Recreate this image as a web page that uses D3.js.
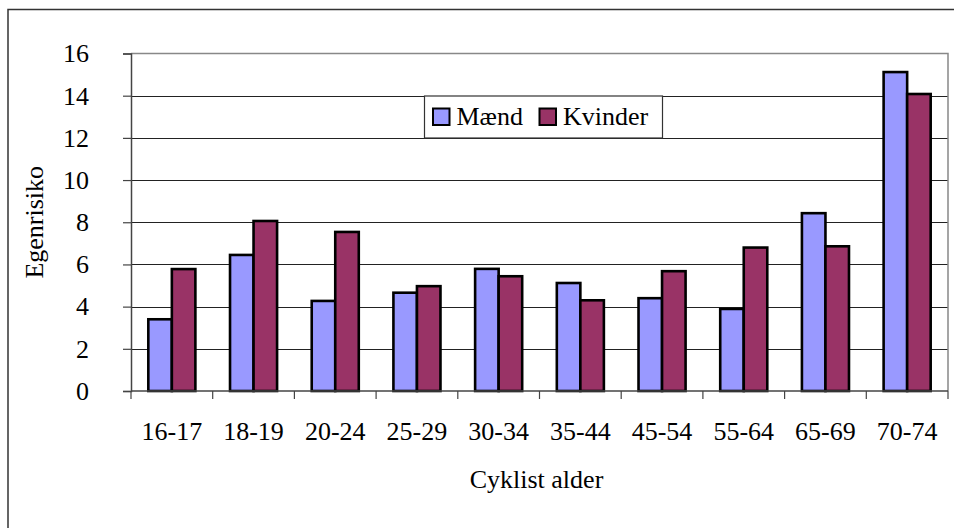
<!DOCTYPE html>
<html>
<head>
<meta charset="utf-8">
<script src="https://cdn.jsdelivr.net/npm/d3@7"></script>
<style>
    body { margin: 0; background: #fff; }
    svg { display: block; }
    text { font-family: "Liberation Serif", "Times New Roman", serif; fill: #000; }
</style>
</head>
<body>
<svg id="chart" width="954" height="528"></svg>
<script>
var categories = ['16-17', '18-19', '20-24', '25-29', '30-34', '35-44', '45-54', '55-64', '65-69', '70-74'];
var maendValues = [3.4, 6.45, 4.27, 4.66, 5.79, 5.12, 4.4, 3.89, 8.43, 15.12];
var kvinderValues = [5.78, 8.06, 7.54, 4.97, 5.44, 4.3, 5.68, 6.8, 6.86, 14.08];
var seriesNames = ['Mænd', 'Kvinder'];
var seriesColors = ['#9999ff', '#993366'];
var yTicks = [0, 2, 4, 6, 8, 10, 12, 14, 16];

var svg = d3.select('#chart');
var fontSize = '26px';

// outer frame, runs off the right and bottom edge
svg.append('rect')
    .attr('x', 8)
    .attr('y', 9.5)
    .attr('width', 1000)
    .attr('height', 600)
    .attr('fill', 'none')
    .attr('stroke', '#333')
    .attr('stroke-width', 1.5);

var plot = { left: 131, right: 948, top: 53.5, bottom: 391 };

var x = d3.scaleBand()
    .domain(categories)
    .range([plot.left, plot.right]);

var y = d3.scaleLinear()
    .domain([0, 16])
    .range([plot.bottom, plot.top]);

var barW = x.bandwidth() * 0.288;

// gridlines
svg.append('g')
    .selectAll('line')
    .data(yTicks.filter(function(t) { return t > 0 && t < 16; }))
    .enter()
    .append('line')
    .attr('x1', plot.left)
    .attr('x2', plot.right)
    .attr('y1', function(t) { return Math.round(y(t)) + 0.5; })
    .attr('y2', function(t) { return Math.round(y(t)) + 0.5; })
    .attr('stroke', '#222')
    .attr('stroke-width', 1);

// plot area border (top + right)
svg.append('path')
    .attr('d', 'M' + plot.left + ',' + plot.top + 'H' + plot.right + 'V' + plot.bottom)
    .attr('fill', 'none')
    .attr('stroke', '#888')
    .attr('stroke-width', 1.5);

// bars
var groups = svg.append('g')
    .selectAll('.group')
    .data(categories)
    .enter()
    .append('g')
    .classed('group', true);

groups.each(function(cat, i)
{
    var el = d3.select(this);
    var cx = x(cat) + x.bandwidth() / 2;
    var vals = [maendValues[i], kvinderValues[i]];

    vals.forEach(function(v, s)
    {
        el.append('rect')
            .attr('x', cx - barW + s * barW)
            .attr('y', y(v))
            .attr('width', barW)
            .attr('height', y(0) - y(v))
            .attr('fill', seriesColors[s])
            .attr('stroke', '#000')
            .attr('stroke-width', 2.6);
    });
});

// y axis
var yAxis = d3.axisLeft(y)
    .tickValues(yTicks)
    .tickSize(8)
    .tickPadding(34)
    .tickFormat(d3.format('d'));

var yG = svg.append('g')
    .attr('transform', 'translate(' + plot.left + ',0)')
    .call(yAxis);

yG.select('.domain').attr('stroke', '#444').attr('stroke-width', 1.5);
yG.selectAll('.tick line').attr('stroke', '#444').attr('stroke-width', 1.2);
yG.selectAll('.tick text')
    .attr('font-size', fontSize)
    .attr('font-family', '"Liberation Serif", serif')
    .attr('fill', '#000')
    .attr('text-anchor', 'end')
    .attr('x', -42);

// x axis: ticks between categories
var xG = svg.append('g');

xG.append('line')
    .attr('x1', plot.left)
    .attr('x2', plot.right)
    .attr('y1', plot.bottom)
    .attr('y2', plot.bottom)
    .attr('stroke', '#444')
    .attr('stroke-width', 1.5);

var bounds = categories.map(function(c) { return x(c); }).concat([plot.right]);

xG.selectAll('.xtick')
    .data(bounds)
    .enter()
    .append('line')
    .classed('xtick', true)
    .attr('x1', function(d) { return d; })
    .attr('x2', function(d) { return d; })
    .attr('y1', plot.bottom)
    .attr('y2', plot.bottom + 8)
    .attr('stroke', '#444')
    .attr('stroke-width', 1.2);

xG.selectAll('.xlabel')
    .data(categories)
    .enter()
    .append('text')
    .classed('xlabel', true)
    .attr('x', function(c) { return x(c) + x.bandwidth() / 2; })
    .attr('y', 440)
    .attr('text-anchor', 'middle')
    .attr('font-size', fontSize)
    .text(function(c) { return c; });

// axis titles
svg.append('text')
    .attr('x', (plot.left + plot.right) / 2 - 3)
    .attr('y', 488)
    .attr('text-anchor', 'middle')
    .attr('font-size', fontSize)
    .text('Cyklist alder');

svg.append('text')
    .attr('transform', 'translate(43,' + ((plot.top + plot.bottom) / 2) + ') rotate(-90)')
    .attr('text-anchor', 'middle')
    .attr('font-size', fontSize)
    .text('Egenrisiko');

// legend
var legend = svg.append('g');

legend.append('rect')
    .attr('x', 424.5)
    .attr('y', 96)
    .attr('width', 238)
    .attr('height', 42)
    .attr('fill', '#fff')
    .attr('stroke', '#333')
    .attr('stroke-width', 1.2);

var legendX = [432, 538.5];

seriesNames.forEach(function(name, s)
{
    legend.append('rect')
        .attr('x', legendX[s] + 1)
        .attr('y', 108.5)
        .attr('width', 16.5)
        .attr('height', 16.5)
        .attr('fill', seriesColors[s])
        .attr('stroke', '#000')
        .attr('stroke-width', 2);

    legend.append('text')
        .attr('x', legendX[s] + 24.5)
        .attr('y', 125)
        .attr('font-size', fontSize)
        .text(name);
});
</script>
</body>
</html>
